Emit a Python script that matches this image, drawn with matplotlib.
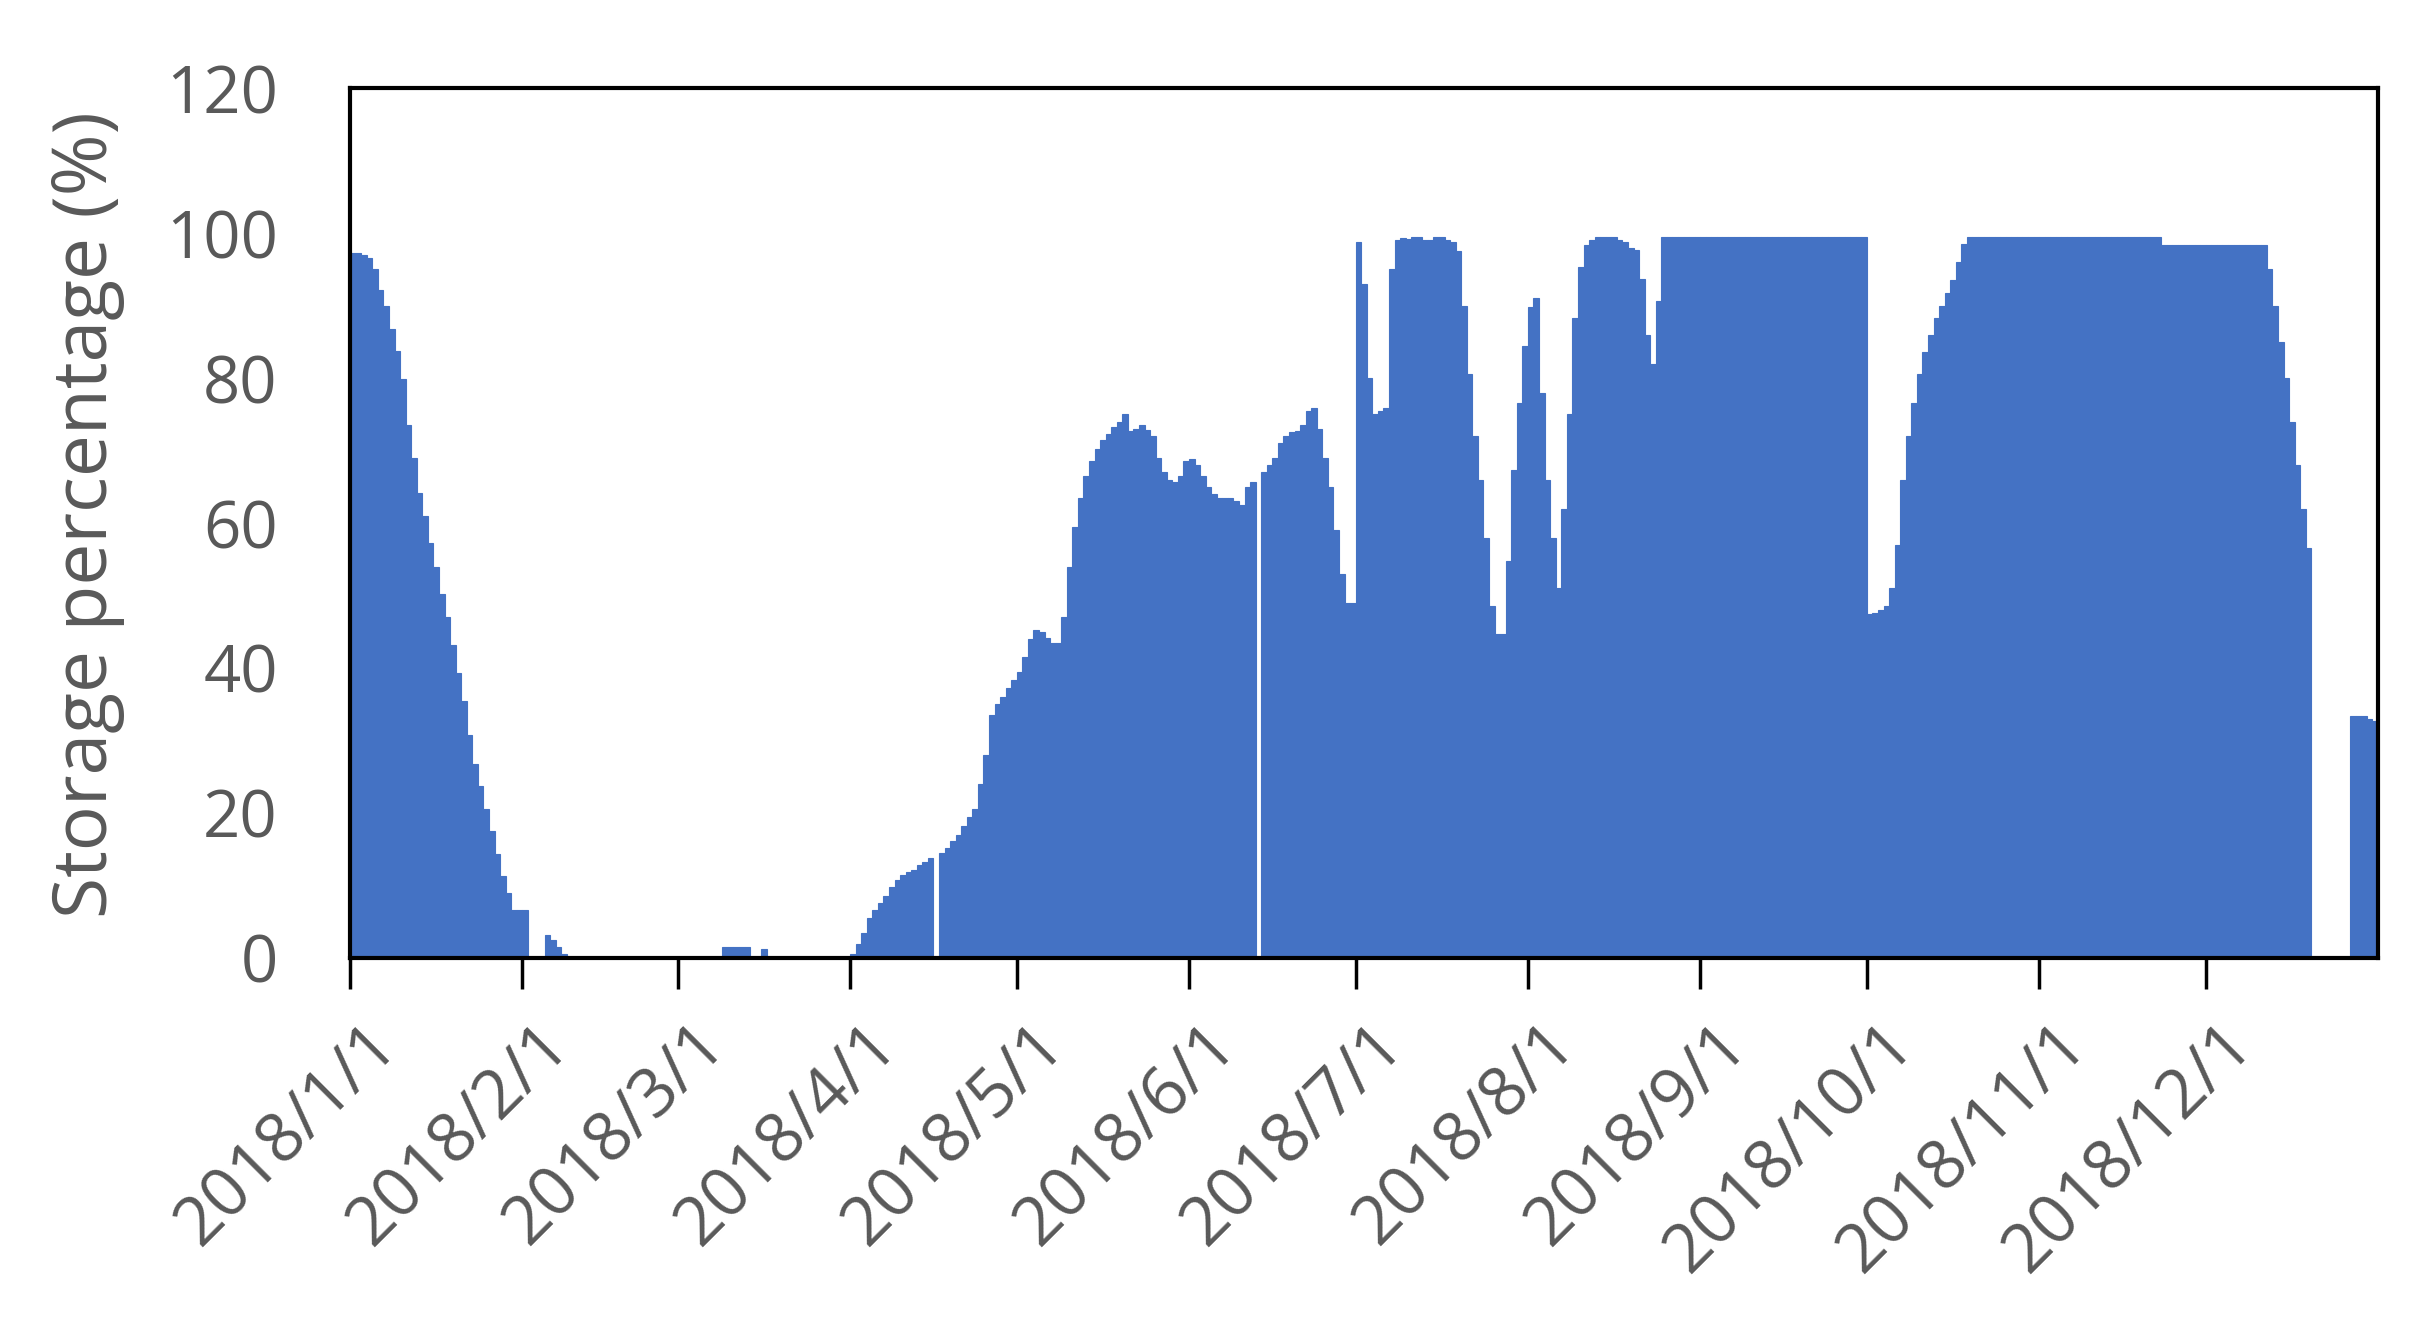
import datetime as dt
import matplotlib
matplotlib.use("Agg")
import matplotlib.pyplot as plt
import matplotlib.transforms as mtransforms

plt.rcParams['font.family'] = ['Open Sans', 'DejaVu Sans']

# daily storage percentage for 2018
storage = [
    97.3, 97.3, 97.0, 96.5, 95.0, 92.2, 90.0, 86.8, 83.7, 79.8,
    73.5, 68.9, 64.2, 61.0, 57.2, 54.0, 50.2, 47.0, 43.2, 39.3,
    35.4, 30.7, 26.8, 23.7, 20.6, 17.5, 14.4, 11.3, 9.0, 6.6,
    6.6, 6.6, 0, 0, 0, 3.2, 2.5, 1.5, 0.5, 0,
    0, 0, 0, 0, 0, 0, 0, 0, 0, 0,
    0, 0, 0, 0, 0, 0, 0, 0, 0, 0,
    0, 0, 0, 0, 0, 0, 0, 1.5, 1.5, 1.5,
    1.5, 1.5, 0, 0, 1.2, 0, 0, 0, 0, 0,
    0, 0, 0, 0, 0, 0, 0, 0, 0, 0,
    0.5, 1.9, 3.5, 5.5, 6.6, 7.6, 8.6, 9.8, 10.8, 11.4,
    11.8, 12.2, 12.8, 13.3, 13.8, 0, 14.5, 15.2, 16.2, 17.0,
    18.2, 19.4, 20.5, 24.0, 28.0, 33.5, 35.0, 36.0, 37.2, 38.4,
    39.5, 41.5, 44.0, 45.3, 45.0, 44.2, 43.5, 43.5, 47.0, 54.0,
    59.5, 63.4, 66.5, 68.5, 70.2, 71.5, 72.3, 73.3, 74.0, 75.0,
    72.7, 73.0, 73.5, 72.8, 72.0, 69.0, 67.0, 66.0, 65.7, 66.5,
    68.5, 68.8, 68.0, 66.5, 65.0, 64.0, 63.4, 63.4, 63.4, 63.0,
    62.5, 65.0, 65.7, 0, 67.0, 68.0, 69.0, 71.0, 72.0, 72.5,
    72.7, 73.5, 75.5, 75.8, 73.0, 69.0, 65.0, 59.0, 53.0, 49.0,
    49.0, 98.8, 93.0, 80.0, 75.0, 75.5, 75.8, 95.0, 99.0, 99.3,
    99.2, 99.5, 99.5, 99.0, 99.0, 99.5, 99.5, 99.0, 98.8, 97.5,
    90.0, 80.5, 72.0, 66.0, 58.0, 48.6, 44.7, 44.7, 54.8, 67.3,
    76.6, 84.4, 89.8, 91.0, 78.0, 66.0, 58.0, 51.0, 62.0, 75.0,
    88.3, 95.3, 98.4, 99.0, 99.5, 99.5, 99.5, 99.5, 99.0, 98.8,
    98.0, 97.6, 93.7, 86.0, 82.0, 90.6, 99.5, 99.5, 99.5, 99.5,
    99.5, 99.5, 99.5, 99.5, 99.5, 99.5, 99.5, 99.5, 99.5, 99.5,
    99.5, 99.5, 99.5, 99.5, 99.5, 99.5, 99.5, 99.5, 99.5, 99.5,
    99.5, 99.5, 99.5, 99.5, 99.5, 99.5, 99.5, 99.5, 99.5, 99.5,
    99.5, 99.5, 99.5, 47.4, 47.6, 48.0, 48.5, 51.0, 57.0, 66.0,
    72.0, 76.6, 80.5, 83.6, 86.0, 88.3, 90.0, 91.7, 93.5, 96.0,
    98.5, 99.5, 99.5, 99.5, 99.5, 99.5, 99.5, 99.5, 99.5, 99.5,
    99.5, 99.5, 99.5, 99.5, 99.5, 99.5, 99.5, 99.5, 99.5, 99.5,
    99.5, 99.5, 99.5, 99.5, 99.5, 99.5, 99.5, 99.5, 99.5, 99.5,
    99.5, 99.5, 99.5, 99.5, 99.5, 99.5, 98.4, 98.4, 98.4, 98.4,
    98.4, 98.4, 98.4, 98.4, 98.4, 98.4, 98.4, 98.4, 98.4, 98.4,
    98.4, 98.4, 98.4, 98.4, 98.4, 95.0, 90.0, 85.0, 80.0, 74.0,
    68.0, 62.0, 56.5, 0, 0, 0, 0, 0, 0, 0,
    33.4, 33.4, 33.4, 33.0, 32.7,
]
start = dt.date(2018, 1, 1)
days = [start + dt.timedelta(days=i) for i in range(len(storage))]

month_ticks = [dt.date(2018, m, 1) for m in range(1, 13)]
month_labels = ["2018/%d/1" % m for m in range(1, 13)]
y_ticks = [0, 20, 40, 60, 80, 100, 120]

grey = '#595959'
blue = '#4472C4'

fig = plt.figure(figsize=(24.36, 13.32), dpi=100)
ax = fig.add_axes([0.1437, 0.2808, 0.8325, 0.6531])

ax.bar(days, storage, width=1.0, align='edge', color=blue,
       edgecolor=blue, linewidth=0.8)

ax.set_xlim(start, dt.date(2019, 1, 1))
ax.set_ylim(0, 120)
ax.set_yticks(y_ticks)
ax.set_xticks(month_ticks)
ax.set_xticklabels(month_labels, rotation=45, ha='right',
                   rotation_mode='anchor')

ax.tick_params(axis='y', length=0, pad=52, labelsize=47, labelcolor=grey)
ax.tick_params(axis='x', length=22, width=2.5, direction='out', pad=16,
               labelsize=49, labelcolor=grey)
shift = mtransforms.ScaledTranslation(0.14, 0, fig.dpi_scale_trans)
for lab in ax.get_xticklabels():
    lab.set_verticalalignment('top')
    lab.set_transform(lab.get_transform() + shift)

for s in ax.spines.values():
    s.set_linewidth(3)
    s.set_color('black')

ax.set_ylabel("Storage percentage (%)", fontsize=54, color=grey)
ax.yaxis.set_label_coords(-0.111, 0.51)

fig.savefig("out.png", dpi=100)
